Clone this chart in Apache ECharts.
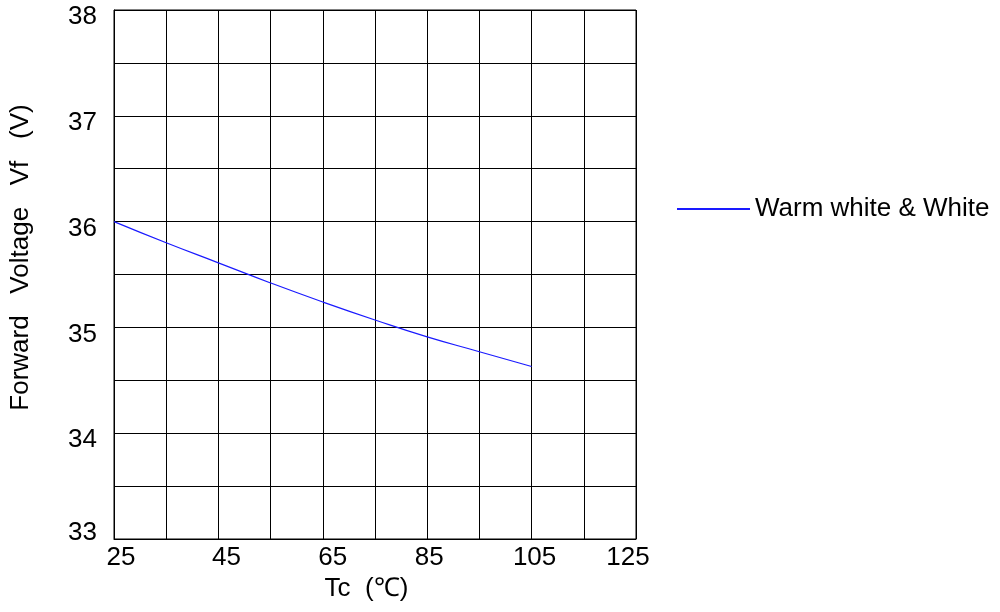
<!DOCTYPE html>
<html><head><meta charset="utf-8">
<script src="https://cdn.jsdelivr.net/npm/echarts@6/dist/echarts.min.js"></script>
<style>html,body{margin:0;padding:0;background:#fff}#c{width:1000px;height:612px}</style>
</head><body><div id="c"></div>
<script>
const tcValues = [25, 35, 45, 55, 65, 75, 85, 95, 105];
const vfValues = [36.0, 35.80, 35.61, 35.42, 35.24, 35.07, 34.91, 34.77, 34.63];
const seriesName = 'Warm white & White';
const xTickLabels = [25, 45, 65, 85, 105, 125];
const yTickLabels = [33, 34, 35, 36, 37, 38];

const chart = echarts.init(document.getElementById('c'));
const font = 'Liberation Sans, Arial, sans-serif';
const xShift = {25: 'r14', 45: 'r16', 65: 'r20', 85: 'r4', 105: 'r6', 125: 'l16'};
chart.setOption({
  animation: false,
  backgroundColor: '#fff',
  grid: {left: 114, right: 364, top: 10, bottom: 73, show: true, borderColor: '#000', borderWidth: 1},
  legend: {
    data: [seriesName], left: 672, top: 191, itemWidth: 73, itemHeight: 2, icon: 'rect', itemGap: 10,
    textStyle: {fontSize: 26, color: '#000', fontFamily: font}
  },
  xAxis: {
    type: 'value', min: 25, max: 125, interval: 10,
    name: 'Tc  (℃)', nameLocation: 'middle', nameGap: 37,
    nameTextStyle: {fontSize: 26, color: '#000', fontFamily: font, padding: [0, 17, 0, 0]},
    axisLine: {show: true, lineStyle: {color: '#000', width: 1}},
    axisTick: {show: false},
    axisLabel: {fontSize: 26, color: '#000', fontFamily: font, margin: 6,
      formatter: v => {
        const r = Math.round(v);
        return xTickLabels.includes(r) ? '{' + xShift[r] + '|' + r + '}' : '';
      },
      rich: {
        r14: {fontSize: 26, fontFamily: font, padding: [0, 0, 0, 14]},
        r16: {fontSize: 26, fontFamily: font, padding: [0, 0, 0, 16]},
        r20: {fontSize: 26, fontFamily: font, padding: [0, 0, 0, 20]},
        r4: {fontSize: 26, fontFamily: font, padding: [0, 0, 0, 4]},
        r6: {fontSize: 26, fontFamily: font, padding: [0, 0, 0, 6]},
        l16: {fontSize: 26, fontFamily: font, padding: [0, 16, 0, 0]}
      }},
    splitLine: {show: true, lineStyle: {color: '#000', width: 1}}
  },
  yAxis: {
    type: 'value', min: 33, max: 38, interval: 0.5,
    name: 'Forward   Voltage   Vf   (V)', nameLocation: 'middle', nameGap: 80,
    nameTextStyle: {fontSize: 26, color: '#000', fontFamily: font, padding: [0, 0, 0, 34]},
    axisLine: {show: true, lineStyle: {color: '#000', width: 1}},
    axisTick: {show: false},
    axisLabel: {fontSize: 26, color: '#000', fontFamily: font, margin: 17,
      formatter: v => yTickLabels.includes(v) ? (v === 33 ? '{u|' + v + '}' : '{d|' + v + '}') : '',
      rich: {
        d: {fontSize: 26, fontFamily: font, padding: [14, 0, 0, 0]},
        u: {fontSize: 26, fontFamily: font, padding: [0, 0, 12, 0]}
      }},
    splitLine: {show: true, lineStyle: {color: '#000', width: 1}}
  },
  series: [{
    name: seriesName, type: 'line', smooth: true, symbol: 'none',
    lineStyle: {color: '#1a1aff', width: 1.2}, itemStyle: {color: '#1a1aff'},
    data: tcValues.map((t, i) => [t, vfValues[i]])
  }]
});
</script></body></html>
